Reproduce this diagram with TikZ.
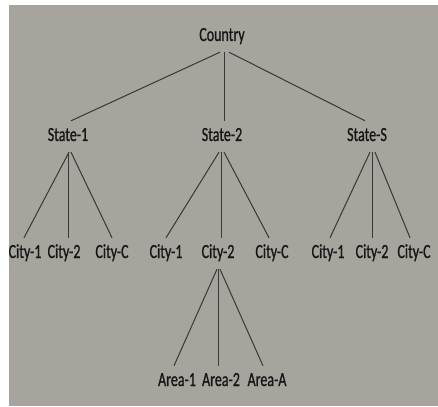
\documentclass[tikz,border=0pt]{standalone}
\usepackage{fontspec}
\setmainfont{Carlito}[FakeStretch=0.7,FakeBold=0.8]
\definecolor{panel}{RGB}{167,163,157}
\definecolor{ink}{RGB}{22,22,22}
\definecolor{wire}{RGB}{55,55,55}
\begin{document}
\begin{tikzpicture}[x=1pt,y=-1pt,
  lbl/.style={anchor=base,inner xsep=0pt,inner ysep=7pt,text height=13pt,text depth=4pt,
    text=ink,font=\fontsize{20}{22}\selectfont},
  edge/.style={draw=wire,line width=1pt}]
  % page and grey panel
  \useasboundingbox (0,0) rectangle (438,406);
  \fill[white] (0,0) rectangle (438,406);
  \fill[panel] (9,5) rectangle (438,406);

  % root
  \node[lbl] (country) at (222,41) {Country};

  % states
  \node[lbl] (s1) at (68,141)  {State-1};
  \node[lbl] (s2) at (222,141) {State-2};
  \node[lbl] (ss) at (367,141) {State-S};

  % cities
  \node[lbl] (s1c1) at (25,258)  {City-1};
  \node[lbl] (s1c2) at (64,258)  {City-2};
  \node[lbl] (s1cc) at (112,258) {City-C};
  \node[lbl] (s2c1) at (166,258) {City-1};
  \node[lbl] (s2c2) at (218,258) {City-2};
  \node[lbl] (s2cc) at (272,258) {City-C};
  \node[lbl] (ssc1) at (328,258) {City-1};
  \node[lbl] (ssc2) at (372,258) {City-2};
  \node[lbl] (sscc) at (414,258) {City-C};

  % areas
  \node[lbl] (a1) at (177,386) {Area-1};
  \node[lbl] (a2) at (221,386) {Area-2};
  \node[lbl] (aa) at (267,386) {Area-A};

  % connectors
  \draw[edge] ([xshift=-2pt]country.south) -- ([xshift=3pt]s1.north);
  \draw[edge] ([xshift=2pt]country.south)  -- ([xshift=2pt]s2.north);
  \draw[edge] ([xshift=7pt]country.south)  -- ([xshift=-2pt]ss.north);

  \draw[edge] ([xshift=1pt]s1.south) -- ([xshift=-1pt]s1c1.north);
  \draw[edge] (s1.south) -- ([xshift=4pt]s1c2.north);
  \draw[edge] ([xshift=3pt]s1.south) -- (s1cc.north);

  \draw[edge] ([xshift=-3pt]s2.south) -- (s2c1.north);
  \draw[edge] ([xshift=-1pt]s2.south) -- ([xshift=3pt]s2c2.north);
  \draw[edge] ([xshift=2pt]s2.south) -- ([xshift=-3pt]s2cc.north);

  \draw[edge] ([xshift=3pt]ss.south) -- ([xshift=2pt]ssc1.north);
  \draw[edge] ([xshift=5pt]ss.south) -- (ssc2.north);
  \draw[edge] ([xshift=8pt]ss.south) -- ([xshift=-4pt]sscc.north);

  \draw[edge] ([xshift=-1pt]s2c2.south) -- ([xshift=-3pt]a1.north);
  \draw[edge] (s2c2.south) -- ([xshift=-3pt]a2.north);
  \draw[edge] ([xshift=2pt]s2c2.south) -- ([xshift=-4pt]aa.north);
\end{tikzpicture}
\end{document}
